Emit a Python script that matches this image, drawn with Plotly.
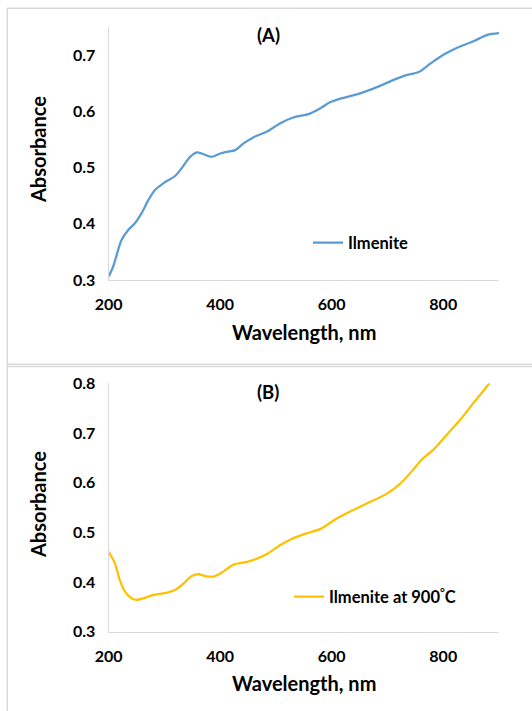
import plotly.graph_objects as go

W, H = 532, 711

# Panel A: Ilmenite
wl_a = [200, 208, 223, 235, 247, 259, 271, 283, 298, 319, 331, 346, 358, 367, 385, 400, 412, 427,
        442, 460, 484, 508, 531, 561, 579, 597, 621, 651, 681, 711, 732, 756, 777, 801, 825, 855, 879, 900]
abs_a = [0.306, 0.324, 0.371, 0.389, 0.401, 0.419, 0.442, 0.460, 0.472, 0.485, 0.499, 0.519, 0.527,
         0.525, 0.519, 0.525, 0.528, 0.531, 0.543, 0.554, 0.564, 0.579, 0.589, 0.596, 0.605, 0.616,
         0.624, 0.632, 0.643, 0.656, 0.664, 0.670, 0.685, 0.701, 0.713, 0.725, 0.736, 0.739]

# Panel B: Ilmenite at 900 C
wl_b = [200, 211, 220, 229, 241, 250, 262, 280, 298, 319, 334, 349, 361, 373, 388, 403, 424, 450,
        483, 507, 531, 555, 582, 606, 633, 663, 699, 722, 746, 761, 782, 806, 830, 854, 883]
abs_b = [0.461, 0.438, 0.404, 0.381, 0.367, 0.364, 0.367, 0.374, 0.377, 0.384, 0.397, 0.412, 0.416,
         0.412, 0.411, 0.419, 0.435, 0.441, 0.456, 0.474, 0.488, 0.498, 0.508, 0.526, 0.542, 0.558,
         0.578, 0.597, 0.626, 0.646, 0.666, 0.696, 0.726, 0.760, 0.800]

x_ticks = [200, 400, 600, 800]
y_ticks_a = [0.3, 0.4, 0.5, 0.6, 0.7]
y_ticks_b = [0.3, 0.4, 0.5, 0.6, 0.7, 0.8]

FONT = "Lato"
BLUE = "#5B9BD5"
GOLD = "#FFC000"
GRID = "#D9D9D9"


def px(x):
    return x / W


def py(y):
    return 1 - y / H


fig = go.Figure()
fig.add_trace(go.Scatter(x=wl_a, y=abs_a, mode="lines", name="Ilmenite",
                         line=dict(color=BLUE, width=2.25, shape="spline", smoothing=0.8),
                         xaxis="x", yaxis="y", legend="legend"))
fig.add_trace(go.Scatter(x=wl_b, y=abs_b, mode="lines", name="Ilmenite at 900<sup>°</sup>C",
                         line=dict(color=GOLD, width=2.25, shape="spline", smoothing=0.8),
                         xaxis="x2", yaxis="y2", legend="legend2"))

xdom = [px(108.7), px(499)]
tfont = dict(family=FONT, size=16, color="black", weight="bold")
x_common = dict(showgrid=False, zeroline=False, showline=True, linecolor=GRID, linewidth=1.3,
                ticks="", automargin=False, tickfont=tfont, ticklabelstandoff=10)
y_common = dict(showgrid=False, zeroline=False, showline=True, linecolor=GRID, linewidth=1.3,
                ticks="outside", ticklen=9, tickcolor="rgba(0,0,0,0)", automargin=False,
                tickfont=tfont, tickformat=".1f")

fig.update_layout(
    width=W, height=H, margin=dict(l=0, r=0, t=0, b=0, pad=0, autoexpand=False),
    paper_bgcolor="white", plot_bgcolor="white",
    xaxis=dict(domain=xdom, range=[200, 900], tickvals=x_ticks, anchor="y", **x_common),
    yaxis=dict(domain=[py(280), py(27)], range=[0.3, 0.75], tickvals=y_ticks_a,
               anchor="x", **y_common),
    xaxis2=dict(domain=xdom, range=[200, 900], tickvals=x_ticks, anchor="y2", **x_common),
    yaxis2=dict(domain=[py(631.7), py(383.3)], range=[0.3, 0.8], tickvals=y_ticks_b,
                anchor="x2", **y_common),
    legend=dict(x=px(308), y=py(243), xanchor="left", yanchor="middle",
                bgcolor="rgba(0,0,0,0)", borderwidth=0,
                font=dict(family=FONT, size=16.5, color="black", weight="bold")),
    legend2=dict(x=px(289), y=py(597), xanchor="left", yanchor="middle",
                 bgcolor="rgba(0,0,0,0)", borderwidth=0,
                 font=dict(family=FONT, size=16.5, color="black", weight="bold")),
    showlegend=True,
)

ann = []
for (txt, x, y) in [("(A)", 268, 35), ("(B)", 268, 392)]:
    ann.append(dict(text=txt, x=px(x), y=py(y), xref="paper", yref="paper", showarrow=False,
                    xanchor="center", yanchor="middle",
                    font=dict(family=FONT, size=18.5, color="black", weight="bold")))
for y in [332, 683]:
    ann.append(dict(text="Wavelength, nm", x=px(303.5), y=py(y), xref="paper", yref="paper",
                    showarrow=False, xanchor="center", yanchor="middle",
                    font=dict(family=FONT, size=20, color="black", weight="bold")))
for y in [150, 505]:
    ann.append(dict(text="Absorbance", x=px(38), y=py(y), xref="paper", yref="paper",
                    showarrow=False, textangle=-90, xanchor="center", yanchor="middle",
                    font=dict(family=FONT, size=20, color="black", weight="bold")))
fig.update_layout(annotations=ann)

shapes = [
    dict(type="line", xref="paper", yref="paper", x0=px(7.3), x1=1.0, y0=py(8.3), y1=py(8.3),
         line=dict(color=GRID, width=1.5)),
    dict(type="line", xref="paper", yref="paper", x0=px(7.3), x1=px(7.3), y0=py(8.3), y1=0,
         line=dict(color=GRID, width=1.5)),
    dict(type="line", xref="paper", yref="paper", x0=px(7.3), x1=1.0, y0=py(364.3), y1=py(364.3),
         line=dict(color=GRID, width=1.5)),
    dict(type="line", xref="paper", yref="paper", x0=px(7.3), x1=1.0, y0=py(366.5), y1=py(366.5),
         line=dict(color=GRID, width=1.5)),
]
fig.update_layout(shapes=shapes)

fig.write_html("out.html",
               post_script="document.body.style.margin='0';document.body.style.padding='0';")
